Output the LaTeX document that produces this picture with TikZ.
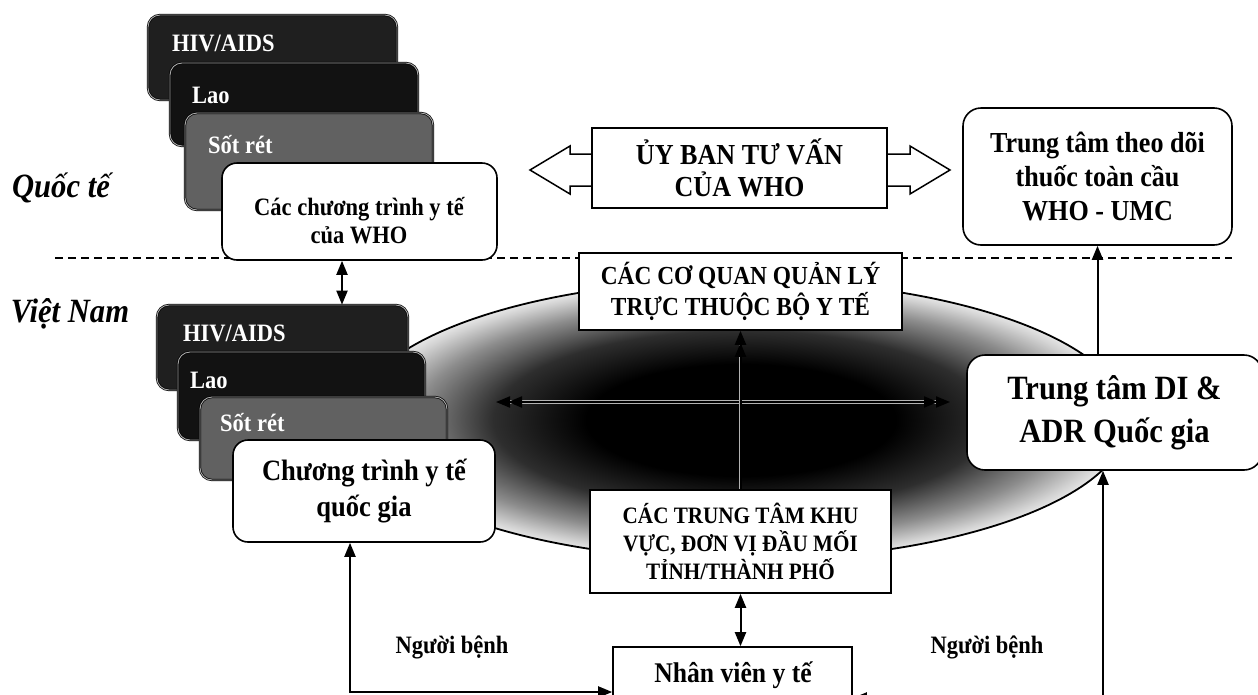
\documentclass[tikz,border=0pt]{standalone}
\usepackage{fontspec}
\setmainfont{Liberation Serif}[FakeStretch=0.9]
\usetikzlibrary{arrows.meta}
\pgfdeclareradialshading{ellshade}{\pgfpoint{0bp}{0bp}}{color(0bp)=(black); color(10bp)=(black); color(16bp)=(black!82); color(21bp)=(black!45); color(24bp)=(black!18); color(25bp)=(black!10); color(50bp)=(white)}
\newcommand\myfs[2]{\fontsize{#1}{#2}\selectfont}
\begin{document}
\begin{tikzpicture}[x=1pt,y=-1pt,
  card/.style={draw=black, line width=0.7pt, double=gray!65, double distance=0.9pt, rounded corners=12pt, inner sep=0pt},
  cardtext/.style={anchor=west, text=white, font=\bfseries\myfs{25}{28}, inner sep=0pt},
  rbox/.style={draw=black, line width=1.6pt, fill=white, rounded corners=15pt, inner sep=0pt, align=center},
  sbox/.style={draw=black, line width=1.6pt, fill=white, inner sep=0pt, align=center},
  conn/.style={line width=2pt, -{Triangle[length=14pt,width=11pt]}},
  conn2/.style={line width=2pt, {Triangle[length=14pt,width=11pt]}-{Triangle[length=14pt,width=11pt]}},
  inner/.style={preaction={draw=gray!60, line width=3.5pt, -}},
  lbl/.style={font=\bfseries\itshape\myfs{34}{38}, anchor=base, inner sep=0pt},
  plain/.style={font=\bfseries\myfs{25}{30}, inner sep=0pt}
]
\useasboundingbox (0,0) rectangle (1258,694);
\clip (0,0) rectangle (1258,694);
\fill[white] (0,0) rectangle (1258,694);

% dashed separator
\draw[line width=1.5pt, dash pattern=on 8pt off 5pt] (55,258) -- (1232,258);

% shaded ellipse
\shade[shading=ellshade] (741,420) ellipse [x radius=387pt, y radius=140pt];
\draw[line width=1.8pt] (741,420) ellipse [x radius=387pt, y radius=140pt];

% labels
\node[lbl] (qt) at (61,197) {Quốc tế};
\node[lbl] (vn) at (70,322) {Việt Nam};

% international cards
\node[card, fill=black!88, minimum width=249pt, minimum height=85pt] (ihiv) at (272.5,57.5) {};
\node[cardtext] (ihivt) at (172,43) {HIV/AIDS};
\node[card, fill=black!93, minimum width=248pt, minimum height=83pt] (ilao) at (294,104.5) {};
\node[cardtext] (ilaot) at (192,95) {Lao};
\node[card, fill=black!62, minimum width=248pt, minimum height=97pt] (isot) at (309,161.5) {};
\node[cardtext] (isott) at (208,145) {Sốt rét};
\node[rbox, minimum width=275pt, minimum height=97pt] (who) at (359.5,211.5) {};
\node[font=\bfseries\myfs{25}{28}, align=center, inner sep=0pt] (whot) at (359,221) {Các chương trình y tế\\của WHO};

% WHO advisory committee double arrow
\draw[line width=1.5pt, fill=white, line join=miter] (592,154) -- (570,154) -- (570,146) -- (530,170) -- (570,194) -- (570,186) -- (592,186);
\draw[line width=1.5pt, fill=white, line join=miter] (887,154) -- (910,154) -- (910,146) -- (950,170) -- (910,194) -- (910,186) -- (887,186);
\node[sbox, line width=1.5pt, minimum width=295pt, minimum height=80pt, font=\bfseries\myfs{29}{32}] (uy) at (739.5,168) {ỦY BAN TƯ VẤN\\CỦA WHO};

% WHO-UMC
\node[rbox, rounded corners=18pt, minimum width=269pt, minimum height=137pt, font=\bfseries\myfs{29}{34}] (td) at (1097.5,176.5) {Trung tâm theo dõi\\thuốc toàn cầu\\WHO - UMC};

% National DI & ADR centre
\node[rbox, rounded corners=18pt, minimum width=295pt, minimum height=115pt, font=\bfseries\myfs{34}{43}] (di) at (1114.5,412.5) {Trung tâm DI \&\\ADR Quốc gia};

% boxes in the ellipse
\node[sbox, minimum width=323pt, minimum height=77pt, font=\bfseries\myfs{26}{31}] (cq) at (740.5,291.5) {CÁC CƠ QUAN QUẢN LÝ\\TRỰC THUỘC BỘ Y TẾ};
\node[sbox, minimum width=301pt, minimum height=103pt, font=\bfseries\myfs{23.5}{28}] (ct) at (740.5,541.5) {CÁC TRUNG TÂM KHU\\VỰC, ĐƠN VỊ ĐẦU MỐI\\TỈNH/THÀNH PHỐ};

% national cards
\node[card, fill=black!88, minimum width=251pt, minimum height=85pt] (vhiv) at (282.5,347.5) {};
\node[cardtext] (vhivt) at (183,333) {HIV/AIDS};
\node[card, fill=black!93, minimum width=247pt, minimum height=88pt] (vlao) at (301.5,396) {};
\node[cardtext] (vlaot) at (190,380) {Lao};
\node[card, fill=black!62, minimum width=247pt, minimum height=83pt] (vsot) at (323.5,438.5) {};
\node[cardtext] (vsott) at (220,423) {Sốt rét};
\node[rbox, minimum width=262pt, minimum height=102pt, font=\bfseries\myfs{29.5}{36}] (ctqg) at (364,491) {Chương trình y tế\\quốc gia};

% health staff
\node[sbox, minimum width=239pt, minimum height=80pt] (nv) at (732.5,687) {};
\node[font=\bfseries\myfs{28.5}{32}, inner sep=0pt] (nvt) at (733,675) {Nhân viên y tế};

% patients labels
\node[plain] (nb1) at (452,647) {Người bệnh};
\node[plain] (nb2) at (987,647) {Người bệnh};

% connectors
\coordinate (hl) at (496,402);
\coordinate (hr) at (950,402);
\draw[conn2, inner, shorten <=12pt, shorten >=12pt] (hl) -- (hr);
\draw[conn2] (hl) -- (hr);
\draw[conn, inner, shorten >=12pt] (ct.north) -- (ct.north |- cq.south);
\draw[conn] (ct.north) -- (ct.north |- cq.south);
\draw[conn] (td.south |- di.north) -- (td.south);
\draw[conn2] ([xshift=-17.5pt]who.south) -- ([xshift=-17.5pt]who.south |- vhiv.north);
\draw[conn2] (ct.south) -- (ct.south |- nv.north);
\coordinate (lb) at (350,692);
\draw[conn2] (lb |- ctqg.south) -- (lb) -- (lb -| nv.west);
\coordinate (rb) at (1103,698);
\draw[conn2] (rb -| nv.east) -- (rb) -- (rb |- di.south);
\end{tikzpicture}
\end{document}
